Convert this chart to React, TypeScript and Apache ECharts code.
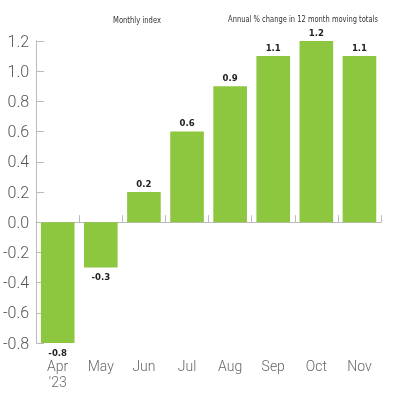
import { useEffect, useRef } from "react";
import * as echarts from "echarts";

const months = ["Apr\n'23", "May", "Jun", "Jul", "Aug", "Sep", "Oct", "Nov"];
const changes = [-0.8, -0.3, 0.2, 0.6, 0.9, 1.1, 1.2, 1.1];
const titles = ["Monthly index", "Annual % change in 12 month moving totals"];

const titleStyle = {
  fontSize: 8.5,
  fill: "#333",
  fontFamily: "DejaVu Sans Condensed",
  align: "center",
  verticalAlign: "middle",
};

const App = () => {
  const chartRef = useRef<HTMLDivElement>(null);

  useEffect(() => {
    if (!chartRef.current) return;
    const chart = echarts.init(chartRef.current, null, { renderer: "svg" });

    chart.setOption({
      animation: false,
      graphic: [
        { type: "text", x: 137, y: 20, scaleX: 0.89, style: { ...titleStyle, text: titles[0] } },
        { type: "text", x: 303, y: 19, scaleX: 0.88, style: { ...titleStyle, text: titles[1] } },
      ],
      grid: { left: 35, right: 19, top: 41, bottom: 57, containLabel: false },
      xAxis: [
        {
          type: "category",
          data: months,
          axisLine: { show: false, onZero: false },
          axisTick: { show: false },
          axisLabel: {
            margin: 15,
            fontSize: 14,
            lineHeight: 16,
            color: "#666",
            fontFamily: "Roboto",
            fontWeight: 300,
          },
        },
        {
          type: "category",
          data: months,
          position: "bottom",
          axisLine: { show: true, onZero: true, lineStyle: { color: "#bbb", width: 1 } },
          axisTick: { show: true, inside: true, length: 7, lineStyle: { color: "#bbb" } },
          axisLabel: { show: false },
        },
      ],
      yAxis: {
        type: "value",
        min: -0.8,
        max: 1.2,
        interval: 0.2,
        axisLine: { show: true, lineStyle: { color: "#bbb" } },
        axisTick: { show: true, inside: true, length: 8, lineStyle: { color: "#bbb" } },
        splitLine: { show: false },
        axisLabel: {
          margin: 7,
          fontSize: 16,
          color: "#555",
          fontFamily: "Roboto",
          fontWeight: 300,
          formatter: (v: number) => v.toFixed(1),
        },
      },
      series: [
        {
          type: "bar",
          barWidth: "78%",
          data: changes.map((v) => ({
            value: v,
            label: { position: v < 0 ? "bottom" : "top" },
          })),
          itemStyle: { color: "#8dc63f" },
          label: {
            show: true,
            distance: 4,
            fontSize: 9.5,
            fontWeight: "bold",
            color: "#222",
            fontFamily: "DejaVu Sans Condensed",
            formatter: (p: any) => p.value.toFixed(1),
          },
        },
      ],
    });

    return () => {
      chart.dispose();
    };
  }, []);

  return (
    <div
      ref={chartRef}
      style={{ position: "fixed", left: 0, top: 0, width: "400px", height: "400px" }}
    />
  );
};

export default App;
